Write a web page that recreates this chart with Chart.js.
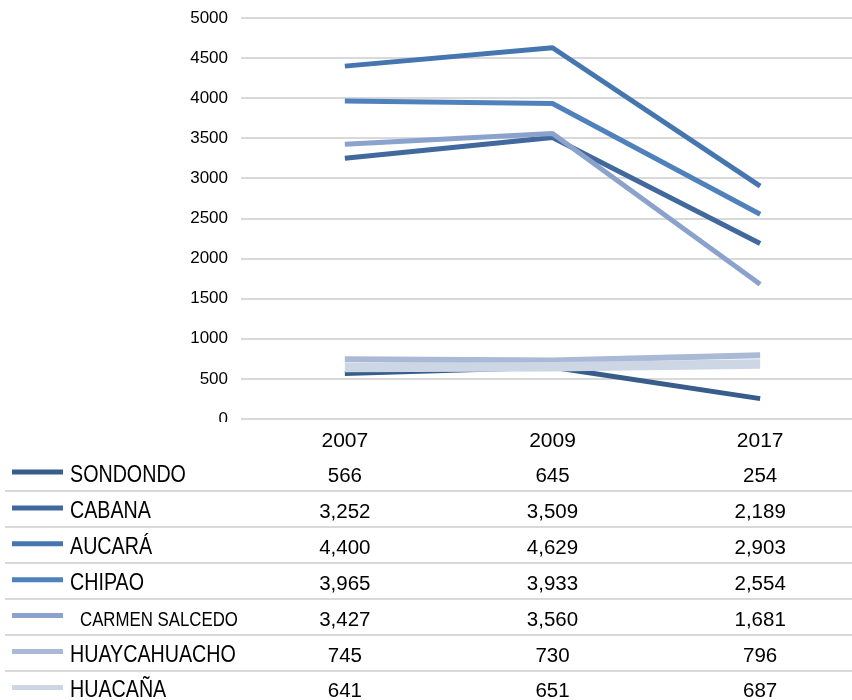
<!DOCTYPE html>
<html><head><meta charset="utf-8">
<script src="https://cdn.jsdelivr.net/npm/chart.js@4.4.1/dist/chart.umd.min.js"></script>
<style>
html,body{margin:0;padding:0;overflow:hidden;background:#fff;width:852px;height:700px}
#wrap{position:absolute;left:0;top:0;width:864px;height:700px}
</style>
</head><body><div id="wrap"><canvas id="c" width="864" height="700"></canvas></div>
<script>
// ---- data ----
const categories = ['2007', '2009', '2017'];
const seriesNames = ['SONDONDO', 'CABANA', 'AUCARÁ', 'CHIPAO', 'CARMEN SALCEDO', 'HUAYCAHUACHO', 'HUACAÑA'];
const sondondo      = [566, 645, 254];
const cabana        = [3252, 3509, 2189];
const aucara        = [4400, 4629, 2903];
const chipao        = [3965, 3933, 2554];
const carmenSalcedo = [3427, 3560, 1681];
const huaycahuacho  = [745, 730, 796];
const huacana       = [641, 651, 687];
const yMin = 0, yMax = 5000, yStep = 500;

// ---- styles ----
const seriesValues = [sondondo, cabana, aucara, chipao, carmenSalcedo, huaycahuacho, huacana];
const colors = ['#385d8a', '#41699d', '#4676b0', '#4f81bd', '#8aa2cc', '#a9b9d6', '#ccd6e5'];
const widths = [5, 5, 5, 5, 5, 6, 9.5];
const labelStyle = {4: {size: 20.5, indent: 10}};

function hasFont(name) {
  const c = document.createElement('canvas').getContext('2d');
  c.font = '40px monospace';
  const w1 = c.measureText('SONDONDO abc').width;
  c.font = '40px "' + name + '", monospace';
  const w2 = c.measureText('SONDONDO abc').width;
  return Math.abs(w1 - w2) > 0.5;
}
const narrowOK = hasFont('Liberation Sans Narrow');

const tablePlugin = {
  id: 'dataTable',
  afterDraw(chart) {
    const ctx = chart.ctx, x = chart.scales.x;
    const b = chart.chartArea.bottom;
    ctx.save();
    ctx.fillStyle = '#fff';
    ctx.fillRect(0, b + 3, chart.width, chart.height - b - 3);
    ctx.fillStyle = '#000';
    ctx.textAlign = 'center';
    ctx.textBaseline = 'alphabetic';
    ctx.font = '21px "Liberation Sans", Arial, sans-serif';
    categories.forEach((c, i) => ctx.fillText(c, x.getPixelForValue(i), b + 28));
    ctx.strokeStyle = '#d9d9d9';
    ctx.lineWidth = 2;
    for (let i = 0; i < seriesNames.length - 1; i++) {
      const yy = Math.round(b + 72 + 36 * i);
      ctx.beginPath(); ctx.moveTo(5, yy); ctx.lineTo(chart.width, yy); ctx.stroke();
    }
    seriesNames.forEach((name, r) => {
      const center = b + 53 + 35.9 * r;
      const base = center + 10;
      ctx.strokeStyle = colors[r];
      ctx.lineWidth = 5;
      ctx.lineCap = 'butt';
      ctx.beginPath(); ctx.moveTo(12, center); ctx.lineTo(63, center); ctx.stroke();
      const st = labelStyle[r] || {size: 24, indent: 0};
      ctx.fillStyle = '#000';
      ctx.textAlign = 'left';
      if (narrowOK) {
        ctx.font = st.size + 'px "Liberation Sans Narrow"';
        ctx.fillText(name, 70 + st.indent, base);
      } else {
        ctx.save();
        ctx.translate(70 + st.indent, base);
        ctx.scale(0.82, 1);
        ctx.font = st.size + 'px "Liberation Sans", Arial, sans-serif';
        ctx.fillText(name, 0, 0);
        ctx.restore();
      }
      ctx.textAlign = 'center';
      ctx.font = '20.5px "Liberation Sans", Arial, sans-serif';
      seriesValues[r].forEach((v, i) => ctx.fillText(v.toLocaleString('en-US'), x.getPixelForValue(i), base));
    });
    ctx.restore();
  }
};

new Chart(document.getElementById('c'), {
  type: 'line',
  data: {
    labels: categories,
    datasets: seriesNames.map((n, i) => ({
      label: n,
      data: seriesValues[i],
      borderColor: colors[i],
      backgroundColor: colors[i],
      borderWidth: widths[i],
      pointRadius: 0,
      tension: 0,
      fill: false,
      borderJoinStyle: 'round',
      borderCapStyle: 'butt',
      order: seriesNames.length - i
    }))
  },
  options: {
    responsive: false,
    animation: false,
    devicePixelRatio: 1,
    layout: {padding: {top: 18, bottom: 281, left: 0, right: 0}},
    plugins: {legend: {display: false}, tooltip: {enabled: false}},
    scales: {
      x: {type: 'category', offset: true, display: false},
      y: {
        min: yMin, max: yMax,
        ticks: {stepSize: yStep, color: '#000', padding: 13,
                callback: v => String(v),
                font: {family: '"Liberation Sans", Arial, sans-serif', size: 17}},
        grid: {color: '#d9d9d9', lineWidth: 2, drawTicks: false},
        border: {display: false},
        afterFit: s => { s.width = 241; s.paddingTop = 0; s.paddingBottom = 0; }
      }
    }
  },
  plugins: [tablePlugin]
});
</script>
</body></html>
